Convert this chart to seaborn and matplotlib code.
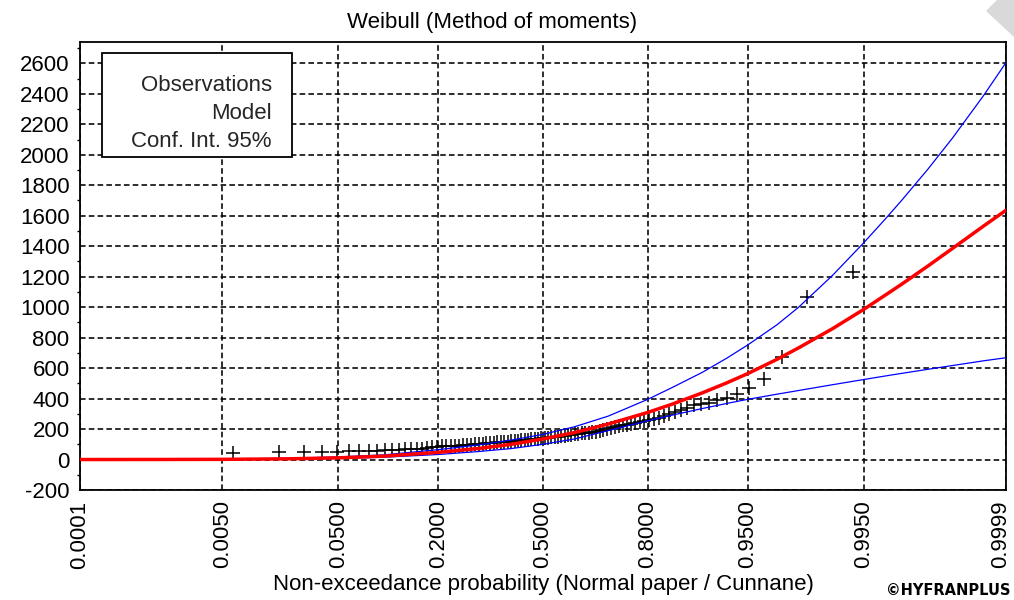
import numpy as np
import matplotlib
matplotlib.use("Agg")
import matplotlib.pyplot as plt
from matplotlib.lines import Line2D
from matplotlib.patches import Polygon, Rectangle
from matplotlib.ticker import MultipleLocator, NullLocator
from matplotlib.transforms import ScaledTranslation
import seaborn as sns
from statistics import NormalDist

# ---- data -------------------------------------------------------------
# Sorted observed values (plotted at Cunnane positions)
obs_values = [
    44, 48, 50, 51, 52, 53, 54, 56, 58, 60,
    62, 64, 66, 68, 70, 72, 76, 80, 84, 88,
    89, 90, 91, 92, 94, 96, 98, 100, 102, 104,
    106, 108, 110, 112, 114, 116, 118, 120, 122, 124,
    126, 128, 130, 132, 134, 136, 138,
    140, 142, 145, 148, 150, 153, 156, 159, 162, 165,
    168, 171, 174, 177, 180, 183, 187, 193, 200, 206,
    212, 218, 224, 229, 234, 240, 247, 255, 262, 269,
    275, 284, 298, 312, 324, 340, 355, 362, 370, 389,
    403, 428, 470, 527, 673, 1067, 1231,
]

# Fitted quantile curve and 95% confidence bounds
curve_prob = [0.0001, 0.001, 0.005, 0.02, 0.05, 0.1, 0.2, 0.3, 0.4, 0.5,
              0.6, 0.7, 0.8, 0.85, 0.9, 0.93, 0.95, 0.97, 0.98, 0.99,
              0.995, 0.997, 0.998, 0.999, 0.9995, 0.9998, 0.9999]
model_q = [0, 0.3, 1.2, 4.5, 11, 22, 47, 72, 100, 135,
           177, 233, 309, 363, 438, 503, 564, 658, 733, 859,
           985, 1078, 1149, 1269, 1386, 1533, 1636]
upper_q = [0, 0.6, 2.5, 8, 17, 30, 65, 95, 128, 165,
           215, 285, 395, 472, 573, 665, 752, 885, 1000, 1209,
           1422, 1577, 1698, 1904, 2111, 2390, 2605]
lower_q = [0, 0.2, 1, 3, 7, 15, 33, 52, 72, 100,
           135, 190, 254, 291, 335, 368, 395, 429, 453, 491,
           525, 548, 565, 592, 617, 648, 668]

x_ticks = [0.0001, 0.005, 0.05, 0.2, 0.5, 0.8, 0.95, 0.995, 0.9999]
x_tick_labels = ["0.0001", "0.0050", "0.0500", "0.2000", "0.5000",
                 "0.8000", "0.9500", "0.9950", "0.9999"]
y_ticks = list(range(-200, 2601, 200))
legend_labels = ["Observations", "Model", "Conf. Int. 95%"]

# ---- normal probability scale ----------------------------------------
_nd = NormalDist()


def prob_to_z(p):
    p = np.clip(np.asarray(p, dtype=float), 1e-12, 1 - 1e-12)
    return np.vectorize(_nd.inv_cdf, otypes=[float])(p)


def z_to_prob(z):
    return np.vectorize(_nd.cdf, otypes=[float])(np.asarray(z, dtype=float))


# Cunnane plotting positions
n = len(obs_values)
rank = np.arange(1, n + 1)
obs_prob = (rank - 0.4) / (n + 0.2)

# ---- figure -----------------------------------------------------------
sns.set_style("white")
plt.rcParams["font.family"] = ["Liberation Sans", "DejaVu Sans"]

W, H = 1014, 600
AX_L, AX_R, AX_T, AX_B = 80, 1006, 41.7, 490
AX_W, AX_H = AX_R - AX_L, AX_B - AX_T


def px_to_ax(x, y):
    return (x - AX_L) / AX_W, (AX_B - y) / AX_H


fig = plt.figure(figsize=(W / 100, H / 100), dpi=100)
ax = fig.add_axes([AX_L / W, 1 - AX_B / H, AX_W / W, AX_H / H])
ax.set_xscale("function", functions=(prob_to_z, z_to_prob))

FS = 16

sns.scatterplot(x=obs_prob, y=obs_values, marker="+", s=110, color="black",
                linewidth=1.1, ax=ax, zorder=3, legend=False)
sns.lineplot(x=curve_prob, y=upper_q, color="#0000ff", linewidth=0.9,
             ax=ax, zorder=4, legend=False)
sns.lineplot(x=curve_prob, y=lower_q, color="#0000ff", linewidth=0.9,
             ax=ax, zorder=4, legend=False)
sns.lineplot(x=curve_prob, y=model_q, color="#ff0000", linewidth=2.5,
             ax=ax, zorder=5, legend=False)

ax.set_xlim(0.0001, 0.9999)
ax.set_ylim(-200, 2742)
ax.set_xticks(x_ticks, labels=x_tick_labels, rotation=90, fontsize=FS)
ax.set_yticks(y_ticks)
ax.set_yticklabels([str(v) for v in y_ticks], fontsize=FS)
ax.yaxis.set_minor_locator(MultipleLocator(100))
ax.xaxis.set_minor_locator(NullLocator())

ax.tick_params(axis="x", which="major", direction="out", length=5.5,
               width=1.1, color="black", pad=2, labelcolor="black")
ax.tick_params(axis="y", which="major", direction="inout", length=7,
               width=1.1, color="black", pad=4, labelcolor="black")
ax.tick_params(axis="y", which="minor", direction="out", length=2,
               width=1.0, color="black", left=True)

# keep the last probability label inside the figure edge
last = ax.get_xticklabels()[-1]
last.set_transform(last.get_transform()
                   + ScaledTranslation(-5 / 100, 0, fig.dpi_scale_trans))

ax.grid(True, which="major", color="black", linestyle=(0, (3.5, 2.0)),
        linewidth=1.15)
ax.set_axisbelow(True)
for sp in ax.spines.values():
    sp.set_visible(True)
    sp.set_color("black")
    sp.set_linewidth(1.3)

ax.set_title("Weibull (Method of moments)", fontsize=FS, color="black",
             pad=10, x=(492 - AX_L) / AX_W)
ax.set_xlabel("Non-exceedance probability (Normal paper / Cunnane)",
              fontsize=FS, color="black", labelpad=4)
ax.set_ylabel("")

# Legend: text only, right-aligned, inside a plain box
box_x0, box_y0 = px_to_ax(101.7, 156.7)
box_x1, box_y1 = px_to_ax(292.3, 52.7)
ax.add_patch(Rectangle((box_x0, box_y0), box_x1 - box_x0, box_y1 - box_y0,
                       transform=ax.transAxes, facecolor="white",
                       edgecolor="black", linewidth=1.3, zorder=9))
handles = [Line2D([], [], linestyle="none") for _ in legend_labels]
leg = ax.legend(handles, legend_labels, loc="upper right",
                bbox_to_anchor=px_to_ax(271.7, 75), borderaxespad=0,
                handlelength=0, handletextpad=0, markerfirst=False,
                fontsize=FS, frameon=False, borderpad=0, labelspacing=0.32)
leg.set_zorder(10)

fig.text(1010 / W, 1 - 595 / H, "\u00a9HYFRANPLUS", ha="right",
         va="baseline", fontsize=10.5, fontweight="bold", color="black",
         family="DejaVu Sans")

# corner mark
pts = np.array([[986, 11], [997, 0], [1014, 0], [1014, 37]], dtype=float)
pts[:, 0] /= W
pts[:, 1] = 1 - pts[:, 1] / H
fig.patches.append(Polygon(pts, closed=True, transform=fig.transFigure,
                           facecolor="#d9d9d9", edgecolor="none"))

fig.savefig("out.png", dpi=100)
